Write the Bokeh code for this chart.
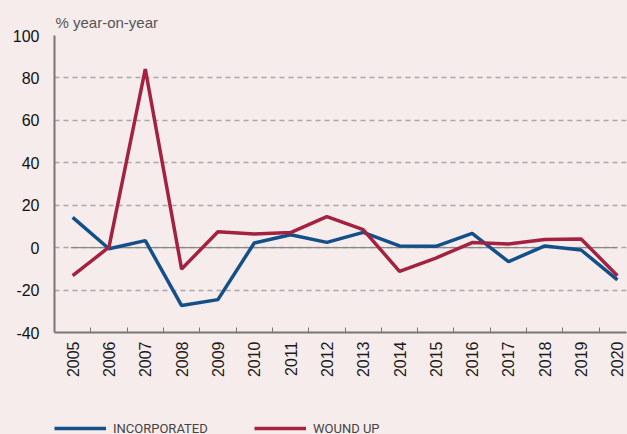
from math import pi
from bokeh.plotting import figure
from bokeh.layouts import column
from bokeh.models import Range1d, FixedTicker, Legend, LegendItem
from bokeh.embed import file_html
from bokeh.resources import INLINE

years = ["2005", "2006", "2007", "2008", "2009", "2010", "2011", "2012",
         "2013", "2014", "2015", "2016", "2017", "2018", "2019", "2020"]
incorporated = [14.3, -0.5, 3.3, -27.3, -24.5, 2.2, 6.1, 2.5,
                7.2, 0.8, 0.6, 6.7, -6.6, 0.8, -1.1, -15.2]
wound_up = [-13.2, 0.2, 84.2, -10.1, 7.5, 6.4, 7.1, 14.6,
            8.5, -11.2, -4.9, 2.4, 1.7, 3.8, 4.1, -13.2]
y_ticks = [-40, -20, 0, 20, 40, 60, 80, 100]
series_names = ["INCORPORATED", "WOUND UP"]

BG = "#f7ecec"
BLUE = "#13508a"
RED = "#a3223f"
FONT = "Liberation Sans"

xs = list(range(len(years)))

p = figure(width=627, height=404, output_backend="svg", toolbar_location=None,
           x_range=Range1d(-0.5, 15.25), y_range=Range1d(-40, 100),
           min_border_left=54, min_border_right=1, min_border_top=35,
           min_border_bottom=72)
p.frame_height = 297
p.background_fill_color = BG
p.border_fill_color = BG
p.outline_line_color = None

p.title.text = "% year-on-year"
p.title.text_font = FONT
p.title.text_font_size = "15px"
p.title.text_font_style = "normal"
p.title.text_color = "#555555"
p.title.align = "left"
p.title.offset = 1

# axes
p.xaxis.ticker = FixedTicker(ticks=xs, minor_ticks=[i - 0.5 for i in range(1, 17)])
p.xaxis.major_label_overrides = {i: y for i, y in enumerate(years)}
p.xaxis.major_label_orientation = pi / 2
p.xaxis.major_tick_in = 0
p.xaxis.major_tick_out = 0
p.xaxis.minor_tick_in = 5
p.xaxis.minor_tick_out = 0
p.xaxis.minor_tick_line_color = "#777777"
p.xaxis.axis_line_color = "#777777"
p.xaxis.axis_line_width = 2
p.xaxis.major_label_text_font = FONT
p.xaxis.major_label_text_font_size = "16px"
p.xaxis.major_label_text_color = "#1a1a1a"
p.xaxis.major_label_standoff = 9

p.yaxis.ticker = FixedTicker(ticks=y_ticks)
p.yaxis.major_label_overrides = {t: str(t) for t in y_ticks}
p.yaxis.major_tick_in = 0
p.yaxis.major_tick_out = 0
p.yaxis.minor_tick_line_color = None
p.yaxis.axis_line_color = "#777777"
p.yaxis.axis_line_width = 2
p.yaxis.major_label_text_font = FONT
p.yaxis.major_label_text_font_size = "16px"
p.yaxis.major_label_text_color = "#111111"
p.yaxis.major_label_standoff = 15

p.xgrid.grid_line_color = None
p.ygrid.grid_line_color = "#a8a8a8"
p.ygrid.grid_line_dash = "5 4"
p.ygrid.grid_line_width = 1.3

p.line(x=[xs[0] - 0.05, xs[-1]], y=[0, 0], line_color="#888888", line_width=1.2)

p.line(xs, incorporated, line_color=BLUE, line_width=3.5)
p.line(xs, wound_up, line_color=RED, line_width=3.5)

# legend strip
lg = figure(width=627, height=30, output_backend="svg", toolbar_location=None,
            x_range=Range1d(0, 1), y_range=Range1d(0, 1),
            min_border_left=54, min_border_right=0, min_border_top=0,
            min_border_bottom=0)
lg.axis.visible = False
lg.grid.grid_line_color = None
lg.outline_line_color = None
lg.background_fill_color = BG
lg.border_fill_color = BG
# legend-only renderers: their points lie outside the strip's ranges
d1 = lg.line([5, 6], [5, 5], line_color=BLUE, line_width=3.5)
d2 = lg.line([5, 6], [5, 5], line_color=RED, line_width=3.5)
legend = Legend(items=[LegendItem(label=series_names[0], renderers=[d1]),
                       LegendItem(label=series_names[1], renderers=[d2])],
                location=(0, -4), orientation="horizontal",
                glyph_width=52, glyph_height=20, label_standoff=7,
                label_width=141, spacing=0, padding=0, margin=0,
                border_line_color=None, background_fill_alpha=0,
                label_text_font="Roboto",
                label_text_font_size="13px", label_text_color="#444444")
lg.add_layout(legend, "center")

layout = column(p, lg, spacing=0, styles={"background-color": BG})
open("out.html", "w").write(file_html(layout, INLINE))
